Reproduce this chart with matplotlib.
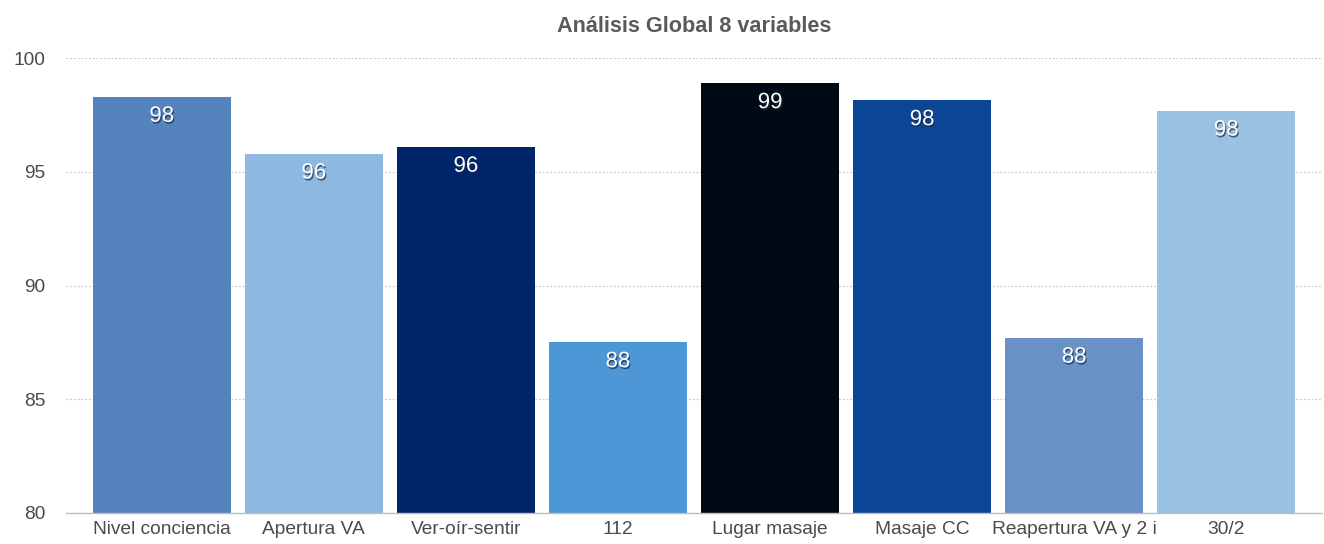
import matplotlib
matplotlib.use("Agg")
import matplotlib.pyplot as plt
import matplotlib.patheffects as pe

categories = ["Nivel conciencia", "Apertura VA", "Ver-oír-sentir", "112",
              "Lugar masaje", "Masaje CC", "Reapertura VA y 2 i", "30/2"]
values = [98.3, 95.8, 96.1, 87.5, 98.9, 98.15, 87.7, 97.7]
colors = ["#5583BE", "#8DB8E0", "#00256A", "#4E97D6",
          "#000A14", "#0C4595", "#6991C6", "#9AC0E2"]
yticks = [80, 85, 90, 95, 100]

plt.rcParams['font.family'] = ['Liberation Sans', 'DejaVu Sans']

fig = plt.figure(figsize=(13.24, 5.44), dpi=100)
ax = fig.add_axes([0.0498, 0.0575, 0.9487, 0.8353])

x = list(range(len(categories)))
ax.bar(x, values, width=0.906, color=colors, zorder=2)

for xi, v in zip(x, values):
    ax.text(xi, v - 0.85, f"{v:.0f}", ha="center", va="center",
            color="white", fontsize=16, zorder=3,
            path_effects=[pe.SimplePatchShadow(offset=(0.8, -1.3), shadow_rgbFace="#1a2a40", alpha=0.7),
                          pe.Normal()])

ax.set_ylim(80, 100)
ax.set_xlim(-0.63, len(categories) - 0.37)
ax.set_yticks(yticks)
ax.set_yticklabels([str(t) for t in yticks])
ax.set_xticks(x)
ax.set_xticklabels(categories)

for t in yticks[1:]:
    ax.axhline(t, color="#cccccc", linestyle=(0, (1.5, 1.5)), linewidth=0.9, zorder=1)

for s in ["top", "right", "left"]:
    ax.spines[s].set_visible(False)
ax.spines["bottom"].set_color("#bdbdbd")
ax.spines["bottom"].set_linewidth(1.0)
ax.tick_params(axis="both", length=0, labelsize=13.8, colors="#4a4a4a")
ax.tick_params(axis="y", pad=15)
ax.tick_params(axis="x", pad=6)

fig.text(0.5245, 0.952, "Análisis Global 8 variables", ha="center", va="center",
         fontsize=15.6, fontweight="bold", color="#5a5a5a")

fig.savefig("out.png", dpi=100)
